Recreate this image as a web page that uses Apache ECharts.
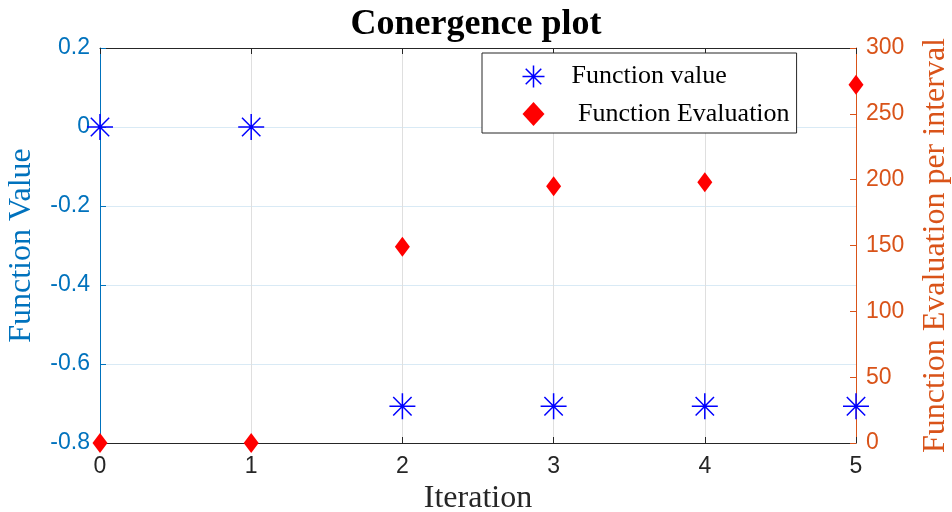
<!DOCTYPE html>
<html><head><meta charset="utf-8">
<script src="https://cdn.jsdelivr.net/npm/echarts@6/dist/echarts.min.js"></script>
<style>html,body{margin:0;padding:0;background:#fff}#c{width:952px;height:512px}</style>
</head><body><div id="c"></div>
<script>
const iterations = [0, 1, 2, 3, 4, 5];
const functionValues = [0, 0, -0.707, -0.707, -0.707, -0.707];
const functionEvaluations = [0, 0, 149, 195, 198, 272];
const leftTicks = [-0.8, -0.6, -0.4, -0.2, 0, 0.2];
const rightTicks = [0, 50, 100, 150, 200, 250, 300];

const BLUE = '#0072BD', ORANGE = '#D95319';
const serif = 'Liberation Serif';
const sans = 'Liberation Sans';
const star = 'path://M0,-1L0,1M-1,0L1,0M-0.707,-0.707L0.707,0.707M-0.707,0.707L0.707,-0.707';

const chart = echarts.init(document.getElementById('c'));
chart.setOption({
  animation: false,
  backgroundColor: '#fff',
  title: {text: 'Conergence plot', left: 'center', top: 2,
    textStyle: {fontFamily: serif, fontWeight: 'bold', fontSize: 36, color: '#000'}},
  grid: {left: 100, right: 96, top: 48, bottom: 69, containLabel: false, outerBoundsMode: 'none'},
  legend: {
    orient: 'vertical', left: 482, top: 53,
    backgroundColor: '#fff', borderColor: '#262626', borderWidth: 1,
    padding: [10, 7, 6, 38], itemGap: 11, itemWidth: 22, itemHeight: 24,
    textStyle: {fontFamily: serif, fontSize: 26, color: '#000', padding: [0, 0, 0, 22]},
    data: [
      {name: 'Function value', icon: star, itemStyle: {color: 'none', borderColor: '#0000ff', borderWidth: 1.5}},
      {name: ' Function Evaluation', icon: 'diamond'}
    ]
  },
  xAxis: [{
    type: 'value', min: 0, max: 5, interval: 1, position: 'bottom',
    name: 'Iteration', nameLocation: 'middle', nameGap: 38,
    nameTextStyle: {fontFamily: serif, fontSize: 32, color: '#262626'},
    axisLine: {onZero: false, lineStyle: {color: '#262626', width: 1}},
    axisTick: {inside: true, length: 6, lineStyle: {color: '#262626'}},
    axisLabel: {fontFamily: sans, fontSize: 23, color: '#262626', margin: 12},
    splitLine: {show: true, lineStyle: {color: '#dfdfdf', width: 1}}
  }, {
    type: 'value', min: 0, max: 5, interval: 1, position: 'top',
    axisLine: {show: true, onZero: false, lineStyle: {color: '#262626', width: 1}},
    axisTick: {show: true, inside: true, length: 6, lineStyle: {color: '#262626'}},
    axisLabel: {show: false}, splitLine: {show: false}
  }],
  yAxis: [{
    type: 'value', min: leftTicks[0], max: leftTicks[leftTicks.length - 1], interval: 0.2,
    position: 'left',
    name: 'Function Value', nameLocation: 'middle', nameGap: 62, nameRotate: 90,
    nameTextStyle: {fontFamily: serif, fontSize: 32, color: BLUE},
    axisLine: {show: true, onZero: false, lineStyle: {color: BLUE, width: 1}},
    axisTick: {show: true, inside: true, length: 6, lineStyle: {color: BLUE}},
    axisLabel: {fontFamily: sans, fontSize: 23, color: BLUE, margin: 10,
      formatter: v => { const r = Math.round(v * 10) / 10; return r === 0 ? '0' : String(r); }},
    splitLine: {show: true, lineStyle: {color: '#d9eaf5', width: 1}}
  }, {
    type: 'value', min: rightTicks[0], max: rightTicks[rightTicks.length - 1], interval: 50,
    position: 'right',
    name: 'Function Evaluation per interval', nameLocation: 'middle', nameGap: 64, nameRotate: 90,
    nameTextStyle: {fontFamily: serif, fontSize: 32, color: ORANGE},
    axisLine: {show: true, onZero: false, lineStyle: {color: ORANGE, width: 1}},
    axisTick: {show: true, inside: true, length: 6, lineStyle: {color: ORANGE}},
    axisLabel: {fontFamily: sans, fontSize: 23, color: ORANGE, margin: 10},
    splitLine: {show: false}
  }],
  series: [{
    name: 'Function value', type: 'scatter', xAxisIndex: 0, yAxisIndex: 0,
    symbol: star, symbolSize: 26,
    itemStyle: {color: 'none', borderColor: '#0000ff', borderWidth: 1.5, opacity: 1},
    data: iterations.map((x, i) => [x, functionValues[i]]),
    z: 5
  }, {
    name: ' Function Evaluation', type: 'scatter', xAxisIndex: 0, yAxisIndex: 1,
    symbol: 'diamond', symbolSize: [15, 20],
    itemStyle: {color: '#ff0000', opacity: 1},
    data: iterations.map((x, i) => [x, functionEvaluations[i]]),
    z: 5
  }]
});
</script></body></html>
